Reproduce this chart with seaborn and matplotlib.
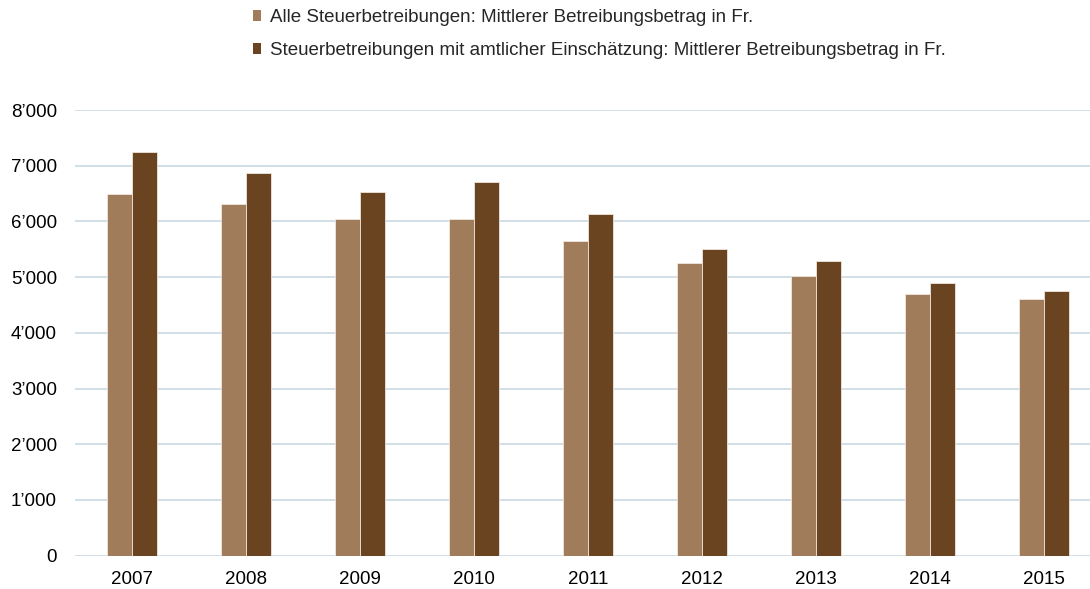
import matplotlib.pyplot as plt
import matplotlib.ticker as mticker
from matplotlib.patches import Patch
import seaborn as sns
import pandas as pd

years = ['2007', '2008', '2009', '2010', '2011', '2012', '2013', '2014', '2015']
alle = [6490, 6315, 6040, 6050, 5655, 5250, 5020, 4695, 4605]
amtlich = [7250, 6875, 6525, 6705, 6135, 5505, 5285, 4890, 4745]
series = ['Alle Steuerbetreibungen: Mittlerer Betreibungsbetrag in Fr.',
          'Steuerbetreibungen mit amtlicher Einschätzung: Mittlerer Betreibungsbetrag in Fr.']
colors = ['#A07C5B', '#6A4321']

df = pd.DataFrame({
    'Jahr': years * 2,
    'Wert': alle + amtlich,
    'Serie': [series[0]] * len(years) + [series[1]] * len(years),
})

sns.set_style('white')
plt.rcParams['font.family'] = ['Liberation Sans', 'DejaVu Sans']

fig = plt.figure(figsize=(10.9, 5.89), dpi=100)
ax = fig.add_axes([75 / 1090, (589 - 555.7) / 589, 1 - 75 / 1090, (555.7 - 110) / 589])

sns.barplot(data=df, x='Jahr', y='Wert', hue='Serie', palette=colors, saturation=1,
            width=0.44, edgecolor='#EFE6DC', linewidth=0.6, ax=ax, legend=False)

ax.set_ylim(0, 8000)
ax.set_xlim(-0.5, 8.4)
ax.yaxis.set_major_locator(mticker.MultipleLocator(1000))
ax.yaxis.set_major_formatter(mticker.FuncFormatter(
    lambda v, p: f'{int(v):,}'.replace(',', '\u2019')))
ax.grid(axis='y', color='#C9D9E1', linewidth=1.2)
ax.set_axisbelow(True)
for s in ax.spines.values():
    s.set_visible(False)
ax.set_xlabel('')
ax.set_ylabel('')
ax.tick_params(axis='both', length=0, labelsize=13.5, colors='#000000')
ax.tick_params(axis='y', pad=13)
ax.tick_params(axis='x', pad=11)

handles = [Patch(facecolor=c, edgecolor='none') for c in colors]
fig.legend(handles, series, loc='upper left', bbox_to_anchor=(236 / 1090, 1.013),
           frameon=False, fontsize=13.5, handlelength=0.45, handleheight=0.45,
           handletextpad=0.45, labelspacing=0.85)

fig.savefig('out.png', dpi=100)
